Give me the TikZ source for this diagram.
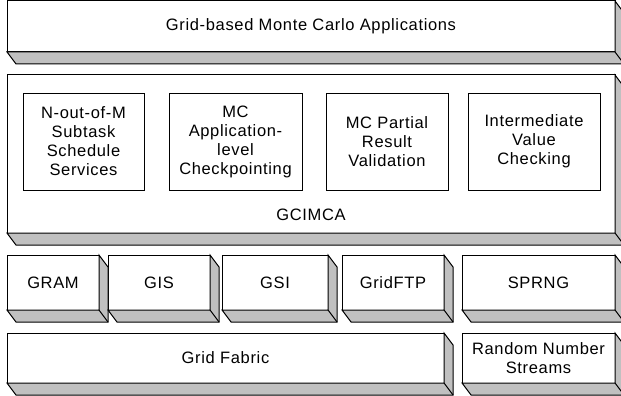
\documentclass[tikz,border=0pt]{standalone}
\usepackage{fontspec}
\setmainfont{Liberation Sans}[LetterSpace=4]
\definecolor{sidegray}{RGB}{192,192,192}

\begin{document}
\begin{tikzpicture}[x=1pt,y=-1pt,
    layer/.style={draw,line width=1pt,fill=white,anchor=north west,inner sep=0pt,outer sep=0pt,
      align=center,font=\fontsize{16.5}{19}\selectfont},
    part/.style={draw,line width=0.8pt,anchor=north west,inner sep=0pt,outer sep=0pt,
      align=center,font=\fontsize{16.5}{19}\selectfont}]
        \clip (0,0) rectangle (621,396);
        \node[layer,minimum width=608pt,minimum height=51pt] (apps) at (7,1) {Grid-based Monte Carlo Applications};
        \node[layer,minimum width=608pt,minimum height=158pt] (gcimca) at (7,75) {};
        \node[font=\fontsize{16.5}{19}\selectfont] (gcimcatext) at ([yshift=18pt]gcimca.south) {GCIMCA};
        \node[part,minimum width=121pt,minimum height=97pt] (nofm) at (23,93) {N-out-of-M\\Subtask\\Schedule\\Services};
        \node[part,minimum width=133pt,minimum height=97pt] (ckpt) at (169,93) {MC\\Application-\\level\\Checkpointing};
        \node[part,minimum width=122pt,minimum height=97pt] (valid) at (326,93) {MC Partial\\Result\\Validation};
        \node[part,minimum width=132pt,minimum height=97pt] (check) at (468,93) {Intermediate\\Value\\Checking};
        \node[layer,minimum width=92pt,minimum height=55pt] (gram) at (7,255) {GRAM};
        \node[layer,minimum width=102pt,minimum height=55pt] (gis) at (108,255) {GIS};
        \node[layer,minimum width=106pt,minimum height=55pt] (gsi) at (222,255) {GSI};
        \node[layer,minimum width=102pt,minimum height=55pt] (ftp) at (342,255) {GridFTP};
        \node[layer,minimum width=153pt,minimum height=55pt] (sprng) at (462,255) {SPRNG};
        \node[layer,minimum width=437pt,minimum height=50pt] (fabric) at (7,333) {Grid Fabric};
        \node[layer,minimum width=153pt,minimum height=50pt] (rng) at (462,333) {Random Number\\Streams};
        \foreach \b in {apps,gcimca,gram,gis,gsi,ftp,sprng,fabric,rng}{
            \filldraw[fill=sidegray,line width=1pt] (\b.south west) -- ++(9,12) -- ([shift={(9,12)}]\b.south east)
                -- ([shift={(9,12)}]\b.north east) -- (\b.north east) -- (\b.south east) -- cycle;
            \draw[line width=1pt] (\b.south east) -- ++(9,12);
        }
    \end{tikzpicture}
\end{document}
